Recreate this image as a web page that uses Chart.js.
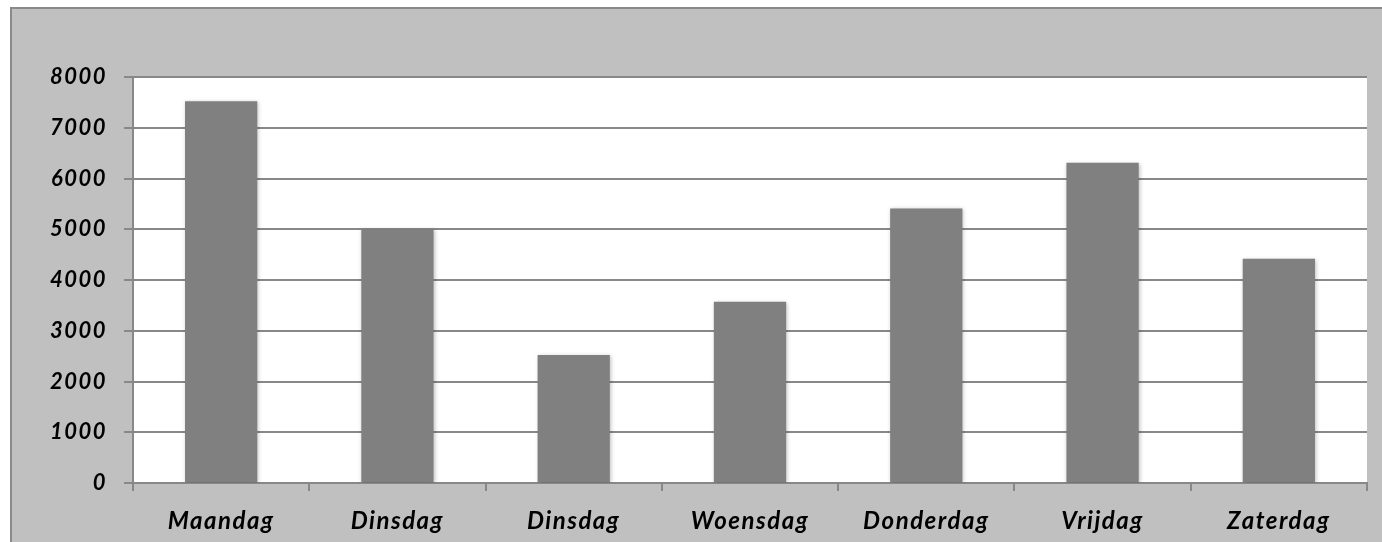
<!DOCTYPE html>
<html>
<head>
<meta charset="utf-8">
<script src="https://cdn.jsdelivr.net/npm/chart.js@4"></script>
<style>
  html, body { margin: 0; padding: 0; background: #ffffff; overflow: hidden; }
  #frame {
    position: absolute; left: 10px; top: 7px; width: 1400px; height: 560px;
    background: #c0c0c0; border: 2px solid #8a8a8a;
  }
  #wrap { position: absolute; left: 0; top: 0; width: 1382px; height: 542px; }
</style>
</head>
<body>
<div id="frame"></div>
<div id="wrap"><canvas id="chartCanvas" width="1382" height="542"></canvas></div>
<script>
"use strict";

const categories = ['Maandag', 'Dinsdag', 'Dinsdag', 'Woensdag', 'Donderdag', 'Vrijdag', 'Zaterdag'];
const values = [7520, 5000, 2520, 3570, 5410, 6310, 4420];
const yTicks = [0, 1000, 2000, 3000, 4000, 5000, 6000, 7000, 8000];

const xFont = { family: 'Lato', style: 'italic', weight: 'bold', size: 24 };
const yFont = { family: 'Lato', style: 'italic', weight: 'bold', size: 22 };

// white plot area, a bit of letter spacing, soft shadow behind the bars
const plotBackground = {
    id: 'plotBackground',
    beforeDraw(chart) {
        const a = chart.chartArea;
        const ctx = chart.ctx;
        ctx.letterSpacing = '1.5px';
        ctx.save();
        ctx.fillStyle = '#ffffff';
        ctx.fillRect(a.left, a.top, a.right - a.left, a.bottom - a.top);
        ctx.restore();
    },
    beforeDatasetsDraw(chart) {
        const ctx = chart.ctx;
        ctx.save();
        ctx.shadowColor = 'rgba(0,0,0,0.25)';
        ctx.shadowBlur = 4;
        ctx.shadowOffsetX = 1;
        ctx.shadowOffsetY = 1;
    },
    afterDatasetsDraw(chart) {
        chart.ctx.restore();
    }
};

const ctx = document.getElementById('chartCanvas');

new Chart(ctx, {
    type: 'bar',
    data: {
        labels: categories,
        datasets: [{
            data: values,
            backgroundColor: '#808080',
            borderWidth: 0,
            categoryPercentage: 1,
            barPercentage: 0.41
        }]
    },
    options: {
        responsive: false,
        animation: false,
        layout: { padding: { top: 77, right: 15, left: 0, bottom: 0 } },
        plugins: {
            legend: { display: false },
            tooltip: { enabled: false }
        },
        scales: {
            x: {
                afterFit(scale) { scale.height = 59; },
                grid: {
                    drawOnChartArea: false,
                    drawTicks: true,
                    tickLength: 8,
                    color: '#888888',
                    lineWidth: 2
                },
                border: { display: true, color: '#888888', width: 2 },
                ticks: { color: '#000000', font: xFont, padding: 16, maxRotation: 0 }
            },
            y: {
                min: 0,
                max: 8000,
                afterFit(scale) { scale.width = 133; },
                afterBuildTicks(scale) { scale.ticks = yTicks.map(v => ({ value: v })); },
                grid: {
                    color: '#888888',
                    lineWidth: 2,
                    tickLength: 9
                },
                border: { display: true, color: '#888888', width: 2 },
                ticks: {
                    color: '#000000',
                    font: yFont,
                    padding: 17,
                    callback: v => String(v)
                }
            }
        }
    },
    plugins: [plotBackground]
});
</script>
</body>
</html>
